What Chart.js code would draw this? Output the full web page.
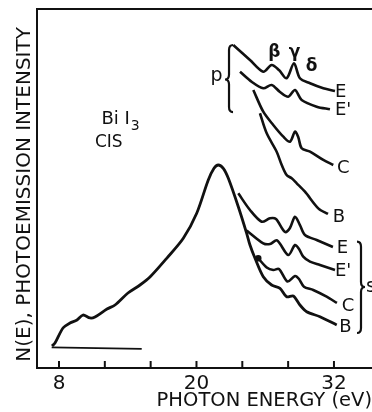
<!DOCTYPE html>
<html>
<head>
<meta charset="utf-8">
<script src="https://cdn.jsdelivr.net/npm/chart.js@4/dist/chart.umd.min.js"></script>
<style>
html, body { margin: 0; padding: 0; background: #fff; overflow: hidden; }
</style>
</head>
<body>
<canvas id="chart" width="372" height="412"></canvas>
<script>
// photon energy (eV) / N(E) in arbitrary units
const mainE = [7.39, 7.65, 8.35, 8.96, 9.57, 10.09, 10.71, 11.14, 12.19, 12.89, 14.02, 15.07, 15.94, 17.40, 18.85, 20.02, 21.03, 21.53, 21.90, 22.34, 22.78, 23.65, 24.38, 24.67, 25.11, 25.83, 26.56, 27.29, 27.87, 28.45, 29.03, 29.62, 30.78, 32.24];
const mainN = [6.13, 6.96, 11.14, 12.53, 13.37, 14.76, 13.93, 14.21, 16.43, 17.55, 20.89, 23.12, 25.35, 30.56, 36.13, 43.09, 52.37, 55.63, 56.55, 55.63, 52.84, 44.93, 37.52, 34.26, 30.56, 25.43, 23.12, 22.20, 19.86, 20.06, 17.55, 15.68, 14.29, 11.98];

const baseE = [7.36, 15.22];
const baseN = [5.75, 5.30];

const sE_E = [23.65, 24.67, 25.69, 26.42, 26.94, 27.73, 28.16, 28.60, 29.03, 29.47, 30.49, 31.91];
const sE_N = [48.66, 44.01, 40.75, 41.70, 41.50, 37.88, 39.00, 42.15, 39.83, 37.05, 35.65, 33.70];

const sEp_E = [24.38, 25.83, 26.42, 27.03, 28.01, 28.60, 28.95, 29.32, 29.91, 30.78, 32.09];
const sEp_N = [38.30, 34.74, 34.54, 35.52, 31.48, 34.26, 33.15, 31.00, 29.61, 28.69, 27.30];

const sC_E = [25.39, 26.13, 26.70, 27.20, 27.94, 28.60, 28.95, 29.38, 30.19, 31.36, 32.26];
const sC_N = [30.56, 28.00, 27.30, 27.58, 24.09, 25.63, 24.79, 22.65, 21.73, 19.86, 18.11];

const pE_E = [23.21, 24.67, 25.83, 26.56, 27.20, 27.87, 28.51, 29.03, 29.91, 31.07, 32.09];
const pE_N = [89.97, 85.79, 82.54, 84.40, 83.00, 80.70, 84.87, 80.70, 79.30, 77.91, 77.16];

const pEp_E = [23.80, 24.84, 25.83, 26.56, 27.29, 28.01, 28.60, 29.18, 30.49, 31.65];
const pEp_N = [82.54, 79.67, 77.91, 78.83, 76.88, 75.57, 77.44, 74.65, 72.79, 72.06];

const pC_E = [24.96, 25.83, 26.70, 27.58, 28.16, 28.60, 28.88, 29.18, 29.91, 31.07, 31.94];
const pC_N = [77.44, 71.39, 67.69, 64.43, 63.04, 65.82, 64.35, 61.20, 60.25, 57.94, 56.55];

const pB_E = [25.54, 26.13, 27.00, 27.44, 27.87, 28.31, 28.75, 29.47, 30.63, 31.48];
const pB_N = [70.95, 65.37, 60.25, 56.55, 53.76, 52.84, 51.45, 49.11, 44.48, 42.90];

const xTicks = [8, 12, 16, 20, 24, 28, 32];
const xLabels = [8, 20, 32];

// text placed on the plot, in data units
const notes = [
  { t: 'β', x: 26.80, y: 88.0, bold: true, size: 17, align: 'center' },
  { t: 'γ', x: 28.55, y: 88.0, bold: true, size: 17, align: 'center' },
  { t: 'δ', x: 30.05, y: 84.0, bold: true, size: 17, align: 'center' },
  { t: 'p', x: 21.75, y: 81.3, size: 19, align: 'center' },
  { t: 'E', x: 32.09, y: 76.9, size: 18 },
  { t: "E'", x: 32.09, y: 71.9, size: 18 },
  { t: 'C', x: 32.26, y: 55.7, size: 18 },
  { t: 'B', x: 31.90, y: 42.1, size: 18 },
  { t: 'E', x: 32.24, y: 33.4, size: 18 },
  { t: "E'", x: 32.09, y: 27.0, size: 18 },
  { t: 'C', x: 32.67, y: 17.3, size: 18 },
  { t: 'B', x: 32.46, y: 11.4, size: 18 },
  { t: 's', x: 34.79, y: 22.6, size: 19 },
  { t: 'CIS', x: 11.14, y: 62.8, size: 17 }
];

const toPts = (xs, ys) => xs.map((x, i) => ({ x: x, y: ys[i] }));

const curve = (label, xs, ys, extra) => Object.assign({
  label: label,
  data: toPts(xs, ys),
  borderColor: '#111',
  backgroundColor: '#111',
  borderWidth: 2.6,
  pointRadius: 0,
  pointHoverRadius: 0,
  tension: 0.3,
  fill: false
}, extra || {});

const paper = {
  id: 'paper',
  afterDraw(chart) {
    const ctx = chart.ctx;
    const xs = chart.scales.x;
    const ys = chart.scales.y;
    const area = chart.chartArea;
    ctx.save();
    ctx.strokeStyle = '#111';
    ctx.fillStyle = '#111';
    // top frame line
    ctx.lineWidth = 2;
    ctx.beginPath();
    ctx.moveTo(area.left - 1, area.top);
    ctx.lineTo(chart.width, area.top);
    ctx.stroke();
    // tick marks pointing into the plot
    xTicks.forEach(v => {
      const px = xs.getPixelForValue(v);
      ctx.beginPath();
      ctx.moveTo(px, area.bottom);
      ctx.lineTo(px, area.bottom - 7);
      ctx.stroke();
    });
    // curly braces
    const brace = (xv, xt, xh, yTop, yMid, yBot) => {
      const a = xs.getPixelForValue(xv), t = xs.getPixelForValue(xt), h = xs.getPixelForValue(xh);
      const y1 = ys.getPixelForValue(yTop), ym = ys.getPixelForValue(yMid), y2 = ys.getPixelForValue(yBot);
      ctx.lineWidth = 2.2;
      ctx.beginPath();
      ctx.moveTo(h, y1);
      ctx.quadraticCurveTo(a, y1, a, y1 + 5);
      ctx.lineTo(a, ym - 5);
      ctx.quadraticCurveTo(a, ym, t, ym);
      ctx.quadraticCurveTo(a, ym, a, ym + 5);
      ctx.lineTo(a, y2 - 5);
      ctx.quadraticCurveTo(a, y2, h, y2);
      ctx.stroke();
    };
    brace(22.84, 22.49, 23.19, 89.97, 80.36, 71.3);
    brace(34.36, 34.71, 34.01, 35.18, 22.56, 9.75);
    // labels
    ctx.textBaseline = 'middle';
    notes.forEach(n => {
      ctx.font = (n.bold ? 'bold ' : '') + n.size + "px 'DejaVu Sans'";
      ctx.textAlign = n.align || 'left';
      ctx.fillText(n.t, xs.getPixelForValue(n.x), ys.getPixelForValue(n.y));
    });
    // Bi I3 with subscript
    const bx = xs.getPixelForValue(11.70), by = ys.getPixelForValue(68.0);
    ctx.textAlign = 'left';
    ctx.textBaseline = 'alphabetic';
    ctx.font = "18px 'DejaVu Sans'";
    ctx.fillText('Bi I', bx, by);
    const w = ctx.measureText('Bi I').width;
    ctx.font = "14px 'DejaVu Sans'";
    ctx.fillText('3', bx + w + 1, by + 6);
    ctx.restore();
  }
};

Chart.defaults.font.family = "'DejaVu Sans', sans-serif";
Chart.defaults.color = '#111';

new Chart(document.getElementById('chart'), {
  type: 'line',
  data: {
    datasets: [
      curve('main', mainE, mainN, { borderWidth: 2.8 }),
      curve('base', baseE, baseN, { borderWidth: 1.8, tension: 0 }),
      curve('s E', sE_E, sE_N),
      curve("s E'", sEp_E, sEp_N),
      curve('s C', sC_E, sC_N, { pointRadius: c => c.dataIndex === 0 ? 2 : 0 }),
      curve('p E', pE_E, pE_N),
      curve("p E'", pEp_E, pEp_N),
      curve('p C', pC_E, pC_N),
      curve('p B', pB_E, pB_N)
    ]
  },
  options: {
    responsive: false,
    animation: false,
    layout: { autoPadding: false, padding: { top: 9, right: 0, left: 0, bottom: 0 } },
    plugins: { legend: { display: false }, tooltip: { enabled: false } },
    scales: {
      x: {
        type: 'linear',
        min: 6.08,
        max: 35.32,
        afterBuildTicks: s => { s.ticks = xTicks.map(v => ({ value: v })); },
        afterFit: s => { s.height = 44; s.paddingLeft = 0; s.paddingRight = 0; },
        grid: { display: false, drawTicks: false },
        border: { display: true, color: '#111', width: 2 },
        ticks: {
          autoSkip: false,
          maxRotation: 0,
          padding: 4,
          font: { size: 20 },
          color: '#111',
          callback: v => xLabels.includes(v) ? String(v) : ''
        },
        title: {
          display: true,
          text: 'PHOTON ENERGY (eV)',
          align: 'end',
          font: { size: 19.5, lineHeight: 1 },
          color: '#111',
          padding: { top: 0, bottom: 1 }
        }
      },
      y: {
        min: 0,
        max: 100,
        afterFit: s => { s.width = 37; s.paddingTop = 0; s.paddingBottom = 0; },
        grid: { display: false, drawTicks: false },
        border: { display: true, color: '#111', width: 2 },
        ticks: { display: false },
        title: {
          display: true,
          text: ' N(E), PHOTOEMISSION INTENSITY',
          align: 'start',
          font: { size: 20, lineHeight: 1 },
          color: '#111',
          padding: { top: 15, bottom: 0 }
        }
      }
    }
  },
  plugins: [paper]
});
</script>
</body>
</html>
